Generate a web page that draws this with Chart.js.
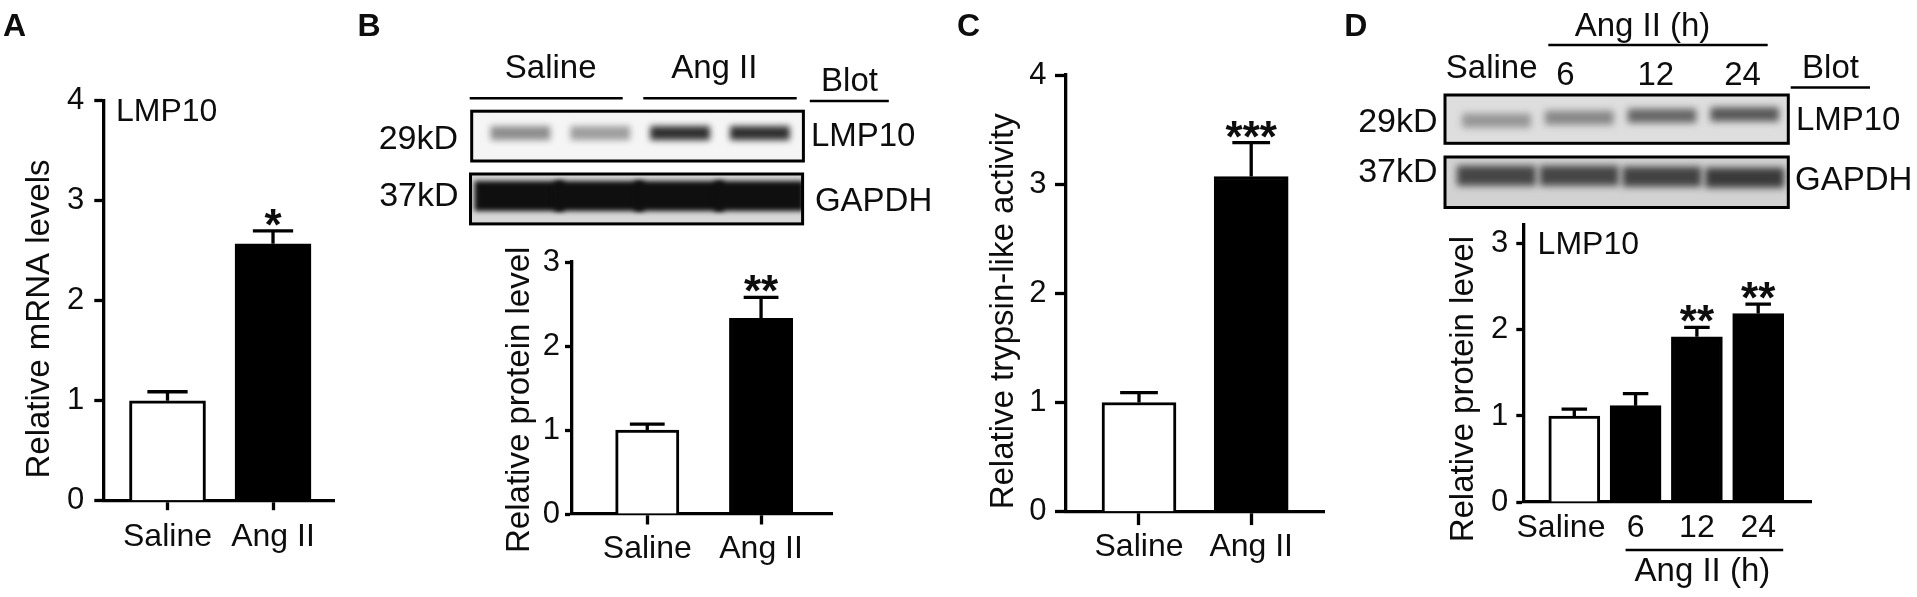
<!DOCTYPE html>
<html>
<head>
<meta charset="utf-8">
<title>LMP10 expression after Ang II</title>
<script src="https://cdn.jsdelivr.net/npm/chart.js@4.4.1/dist/chart.umd.min.js"></script>
<style>
  body { margin: 0; background: #fff; }
  .panel { position: absolute; top: 0; height: 597px; }
</style>
</head>
<body>
<div class="panel" style="left:0;width:345px"><canvas id="chartA"></canvas></div>
<div class="panel" style="left:345px;width:595px"><canvas id="chartB"></canvas></div>
<div class="panel" style="left:940px;width:400px"><canvas id="chartC"></canvas></div>
<div class="panel" style="left:1340px;width:577px"><canvas id="chartD"></canvas></div>
<script>
// values (mean, SEM, significance)
const groups = ['Saline', 'Ang II'];
const mrnaLevels = [1.0, 2.57];
const mrnaSem = [0.09, 0.13];
const mrnaStars = ['', '*'];

const proteinLevels = [1.0, 2.33];
const proteinSem = [0.07, 0.25];
const proteinStars = ['', '**'];

const trypsinActivity = [1.0, 3.07];
const trypsinSem = [0.09, 0.31];
const trypsinStars = ['', '***'];

const timeGroups = ['Saline', '6', '12', '24'];
const timeLevels = [1.0, 1.12, 1.92, 2.19];
const timeSem = [0.08, 0.14, 0.11, 0.11];
const timeStars = ['', '', '**', '**'];

const ticks4 = [0, 1, 2, 3, 4];
const ticks3 = [0, 1, 2, 3];

// band darkness of the western blots, 0 = empty lane, 1 = saturated
const lmp10BandsB = [0.45, 0.38, 0.86, 0.86];
const gapdhBandsB = [1, 1, 1, 1];
const lmp10BandsD = [0.35, 0.42, 0.58, 0.65];
const gapdhBandsD = [0.72, 0.72, 0.74, 0.78];

const FONT = '"Liberation Sans", Arial, Helvetica, sans-serif';
const INK = '#0d0d0d';
Chart.defaults.font.family = FONT;
Chart.defaults.color = INK;

function label(ctx, str, x, y, size, align, weight) {
  ctx.save();
  ctx.font = (weight || 'normal') + ' ' + size + 'px ' + FONT;
  ctx.fillStyle = INK;
  ctx.textAlign = align || 'left';
  ctx.textBaseline = 'alphabetic';
  ctx.fillText(str, x, y);
  ctx.restore();
}

function sideTitle(ctx, str, baseX, midY) {
  ctx.save();
  ctx.translate(baseX, midY);
  ctx.rotate(-Math.PI / 2);
  ctx.font = '33px ' + FONT;
  ctx.fillStyle = INK;
  ctx.textAlign = 'center';
  ctx.textBaseline = 'alphabetic';
  ctx.fillText(str, 0, 0);
  ctx.restore();
}

function rule(ctx, x1, x2, y) {
  ctx.save();
  ctx.strokeStyle = '#000';
  ctx.lineWidth = 2.5;
  ctx.beginPath();
  ctx.moveTo(x1, y);
  ctx.lineTo(x2, y);
  ctx.stroke();
  ctx.restore();
}

function blot(ctx, box, bands, look) {
  ctx.save();
  ctx.beginPath();
  ctx.rect(box.x, box.y, box.w, box.h);
  ctx.clip();
  ctx.fillStyle = `rgb(${look.bg},${look.bg},${look.bg})`;
  ctx.fillRect(box.x, box.y, box.w, box.h);
  ctx.filter = `blur(${look.blur}px)`;
  bands.forEach((d, i) => {
    const g = Math.round(look.bg - (look.bg - 15) * d);
    const cx = box.x + box.w * (look.first + look.step * i);
    const cy = box.y + box.h * look.mid[i];
    const bw = box.w * look.width;
    ctx.fillStyle = `rgb(${g},${g},${g})`;
    ctx.fillRect(cx - bw / 2, cy - look.height / 2, bw, look.height);
  });
  ctx.restore();
  ctx.save();
  ctx.strokeStyle = '#000';
  ctx.lineWidth = 3;
  ctx.strokeRect(box.x, box.y, box.w, box.h);
  ctx.restore();
}

function overlay(p) {
  return {
    id: 'overlay',
    afterDatasetsDraw(chart) {
      const ctx = chart.ctx;
      const xs = chart.scales.x, ys = chart.scales.y;
      ctx.save();
      ctx.strokeStyle = '#000';
      ctx.lineWidth = 3.3;
      p.values.forEach((v, i) => {
        const x = xs.getPixelForValue(i);
        const y0 = ys.getPixelForValue(v);
        const y1 = ys.getPixelForValue(v + p.sem[i]);
        const cap = p.barWidth * p.capRatio / 2;
        ctx.beginPath();
        ctx.moveTo(x, y0);
        ctx.lineTo(x, y1);
        ctx.moveTo(x - cap, y1);
        ctx.lineTo(x + cap, y1);
        ctx.stroke();
        if (p.stars[i]) label(ctx, p.stars[i], x, y1 + 9, 44, 'center', 'bold');
      });
      ctx.restore();
    },
    afterDraw(chart) {
      p.extra(chart.ctx, chart);
    }
  };
}

function barPanel(id, p) {
  const H = 597;
  return new Chart(document.getElementById(id), {
    type: 'bar',
    data: {
      datasets: [{
        data: p.labels.map((l, i) => ({ x: i, y: p.values[i] })),
        backgroundColor: p.labels.map((l, i) => i === 0 ? '#fff' : '#000'),
        borderColor: '#000',
        borderWidth: 3,
        barThickness: p.barWidth
      }]
    },
    options: {
      responsive: true,
      maintainAspectRatio: false,
      animation: false,
      events: [],
      layout: { padding: { top: p.area.top, right: p.width - p.area.right, bottom: 0, left: 0 } },
      plugins: { legend: { display: false }, tooltip: { enabled: false } },
      scales: {
        x: {
          type: 'linear',
          offset: false,
          min: p.xMin,
          max: p.xMax,
          z: 1,
          afterFit: s => { s.height = H - p.area.bottom; },
          afterBuildTicks: s => { s.ticks = p.labels.map((l, i) => ({ value: i })); },
          grid: {
            display: true, drawOnChartArea: false, offset: false,
            drawTicks: p.xTick > 0, tickLength: p.xTick, tickWidth: 3.3, tickColor: '#000'
          },
          border: { display: true, color: '#000', width: 3.3 },
          ticks: {
            autoSkip: false, maxRotation: 0, minRotation: 0,
            padding: p.xPad, color: INK, font: { family: FONT, size: 32 },
            callback: v => (p.tickText || p.labels)[v]
          }
        },
        y: {
          min: 0,
          max: p.yMax,
          afterFit: s => { s.width = p.area.left; },
          afterBuildTicks: s => { s.ticks = p.yTicks.map(v => ({ value: v })); },
          grid: {
            display: true, drawOnChartArea: false,
            drawTicks: true, tickLength: p.yTick, tickWidth: 3.3, tickColor: '#000'
          },
          border: { display: true, color: '#000', width: 3.3 },
          ticks: { padding: p.yPad, color: INK, font: { family: FONT, size: 31 } }
        }
      }
    },
    plugins: [overlay(p)]
  });
}

// A: mRNA
barPanel('chartA', {
  width: 345,
  labels: groups, values: mrnaLevels, sem: mrnaSem, stars: mrnaStars,
  yMax: 4, yTicks: ticks4,
  area: { left: 103.3, right: 334, top: 100.9, bottom: 500.7 },
  xMin: -0.6085, xMax: 1.578,
  barWidth: 76, capRatio: 0.53,
  xTick: 9.5, xPad: 7.3, yTick: 9, yPad: 10,
  extra(ctx) {
    label(ctx, 'A', 3, 36, 32, 'left', 'bold');
    sideTitle(ctx, 'Relative mRNA levels', 48.5, 319);
    label(ctx, 'LMP10', 116, 121, 32);
  }
});

// B: protein, blot + quantification
barPanel('chartB', {
  width: 595,
  labels: groups, values: proteinLevels, sem: proteinSem, stars: proteinStars,
  yMax: 3, yTicks: ticks3,
  area: { left: 226.7, right: 487.3, top: 262, bottom: 514 },
  xMin: -0.664, xMax: 1.626,
  barWidth: 63.3, capRatio: 0.55,
  xTick: 10.5, xPad: 5, yTick: 6.7, yPad: 5,
  extra(ctx) {
    label(ctx, 'B', 12.5, 36, 32, 'left', 'bold');
    label(ctx, 'Saline', 205.7, 78, 33, 'center');
    label(ctx, 'Ang II', 369.3, 78, 33, 'center');
    label(ctx, 'Blot', 504.5, 90.6, 33, 'center');
    rule(ctx, 124.7, 277.7, 98.2);
    rule(ctx, 298.3, 451.7, 98.2);
    rule(ctx, 464.8, 543.8, 100.9);
    blot(ctx, { x: 126.7, y: 111.2, w: 331.7, h: 49.8 }, lmp10BandsB,
      { bg: 245, blur: 3, first: 0.147, step: 0.2406, width: 0.18, height: 14, mid: [0.44, 0.44, 0.44, 0.44] });
    blot(ctx, { x: 125.5, y: 174, w: 332.1, h: 49.9 }, gapdhBandsB,
      { bg: 215, blur: 2.5, first: 0.147, step: 0.2406, width: 0.27, height: 30, mid: [0.44, 0.44, 0.44, 0.44] });
    label(ctx, '29kD', 113, 148.5, 34, 'right');
    label(ctx, '37kD', 113.5, 205.6, 34, 'right');
    label(ctx, 'LMP10', 465.9, 145.8, 33);
    label(ctx, 'GAPDH', 469.9, 211.3, 33);
    sideTitle(ctx, 'Relative protein level', 184, 399.8);
  }
});

// C: trypsin-like activity
barPanel('chartC', {
  width: 400,
  labels: groups, values: trypsinActivity, sem: trypsinSem, stars: trypsinStars,
  yMax: 4, yTicks: ticks4,
  area: { left: 126, right: 384, top: 75, bottom: 511.7 },
  xMin: -0.6506, xMax: 1.6488,
  barWidth: 74, capRatio: 0.51,
  xTick: 13.4, xPad: 2.4, yTick: 11, yPad: 8.5,
  extra(ctx) {
    label(ctx, 'C', 16.9, 36, 32, 'left', 'bold');
    sideTitle(ctx, 'Relative trypsin-like activity', 72.5, 311.3);
  }
});

// D: time course
barPanel('chartD', {
  width: 577,
  labels: timeGroups, values: timeLevels, sem: timeSem, stars: timeStars,
  tickText: ['Saline   ', '6', '12', '24'],
  yMax: 3.22, yTicks: ticks3,
  area: { left: 183.3, right: 471.7, top: 225, bottom: 502 },
  xMin: -0.832, xMax: 3.873,
  barWidth: 51, capRatio: 0.5,
  xTick: 0, xPad: 7.2, yTick: 7, yPad: 8,
  extra(ctx, chart) {
    label(ctx, 'D', 4.3, 36, 32, 'left', 'bold');
    label(ctx, 'Ang II (h)', 302.5, 36, 33, 'center');
    rule(ctx, 208.3, 427.7, 45);
    label(ctx, 'Saline', 105.8, 78, 33);
    label(ctx, timeGroups[1], 225.5, 84.5, 33, 'center');
    label(ctx, timeGroups[2], 315.8, 84.5, 33, 'center');
    label(ctx, timeGroups[3], 402.5, 84.5, 33, 'center');
    label(ctx, 'Blot', 490.5, 78, 33, 'center');
    rule(ctx, 450.7, 530, 87.6);
    blot(ctx, { x: 105, y: 95, w: 343.3, h: 48.3 }, lmp10BandsD,
      { bg: 222, blur: 3.5, first: 0.15, step: 0.241, width: 0.2, height: 14, mid: [0.53, 0.47, 0.43, 0.40] });
    blot(ctx, { x: 105, y: 157, w: 343.3, h: 50.5 }, gapdhBandsD,
      { bg: 210, blur: 3.5, first: 0.15, step: 0.241, width: 0.23, height: 20, mid: [0.37, 0.37, 0.39, 0.41] });
    label(ctx, '29kD', 97.5, 131.7, 34, 'right');
    label(ctx, '37kD', 97.5, 181.7, 34, 'right');
    label(ctx, 'LMP10', 455.9, 129.5, 33);
    label(ctx, 'GAPDH', 455.1, 190.4, 33);
    sideTitle(ctx, 'Relative protein level', 132.5, 389.2);
    label(ctx, 'LMP10', 197.6, 254.3, 32);
    const xs = chart.scales.x;
    const x1 = xs.getPixelForValue(1) - 10;
    const x2 = xs.getPixelForValue(3) + 25;
    rule(ctx, x1, x2, 550);
    label(ctx, 'Ang II (h)', (x1 + x2) / 2 - 2, 581, 33, 'center');
  }
});
</script>
</body>
</html>
